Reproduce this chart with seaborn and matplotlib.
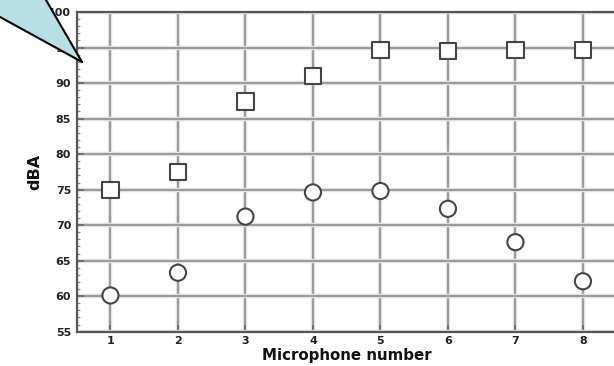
import matplotlib
matplotlib.use("Agg")
import matplotlib.pyplot as plt
import matplotlib.patheffects as pe
from matplotlib.patches import Polygon
from matplotlib.lines import Line2D
from matplotlib.ticker import MultipleLocator
import numpy as np
import pandas as pd
import seaborn as sns

# ---- data ----
microphones = [1, 2, 3, 4, 5, 6, 7, 8]
series_square = [74.9, 77.5, 87.4, 91.0, 94.6, 94.5, 94.7, 94.6]
series_circle = [60.1, 63.3, 71.2, 74.6, 74.8, 72.3, 67.6, 62.1]
y_ticks = [55, 60, 65, 70, 75, 80, 85, 90, 95, 100]
x_label = "Microphone number"
y_label = "dBA"

df = pd.DataFrame({
    "mic": microphones * 2,
    "dBA": series_square + series_circle,
    "series": ["square"] * len(microphones) + ["circle"] * len(microphones),
})

sns.set_style("white")
plt.rcParams["font.family"] = ["DejaVu Sans"]

W, H = 614, 366
fig = plt.figure(figsize=(W / 100, H / 100), dpi=100)
left, right = 76.7, 76.7 + 540.0
top, bottom = 12.0, 331.7
ax = fig.add_axes([left / W, 1 - bottom / H, (right - left) / W, (bottom - top) / H])

sns.scatterplot(
    data=df, x="mic", y="dBA", style="series",
    markers={"square": "s", "circle": "o"},
    s=135, color="white", edgecolor="#454545", linewidth=1.5,
    legend=False, ax=ax, zorder=5, clip_on=False,
)

ax.set_xlim(0.5, 8.5)
ax.set_ylim(55, 100)
ax.set_xticks(microphones)
ax.set_yticks(y_ticks)
ax.yaxis.set_minor_locator(MultipleLocator(1))

ax.grid(True, which="major", color="#9a9a9a", linewidth=1.4)
for gl in ax.get_xgridlines() + ax.get_ygridlines():
    gl.set_path_effects([pe.Stroke(linewidth=3.2, foreground="#e2e2e2"), pe.Normal()])
ax.set_axisbelow(True)

for side in ["left", "bottom", "top"]:
    ax.spines[side].set_visible(True)
    ax.spines[side].set_color("#555555")
    ax.spines[side].set_linewidth(1.6)
ax.spines["right"].set_visible(False)

ax.tick_params(axis="both", which="major", direction="in", length=5, width=1.2,
               color="#666666", labelsize=8, labelcolor="#222222")
ax.tick_params(axis="y", which="major", pad=4, left=True)
ax.tick_params(axis="x", which="major", pad=3, bottom=True)
ax.tick_params(axis="y", which="minor", direction="in", length=2.5, width=0.9,
               color="#888888", left=True)
for lab in ax.get_xticklabels() + ax.get_yticklabels():
    lab.set_fontweight("bold")

ax.set_xlabel(x_label, fontsize=10.8, fontweight="bold", color="#111111", labelpad=1.5)
ax.set_ylabel(y_label, fontsize=11.5, fontweight="bold", color="#111111")
ax.yaxis.set_label_coords((42 - left) / (right - left), 0.5)

# callout shape in the top-left corner (figure pixel coords, from top)
def fp(x, y):
    return (x / W, 1 - y / H)

poly = Polygon([fp(0, 0), fp(46, 0), fp(82, 62), fp(0, 17)], closed=True,
               transform=fig.transFigure, facecolor="#b8dfe3", edgecolor="none", zorder=10)
fig.patches.append(poly)
for (x0, y0), (x1, y1) in [((46, 0), (82, 62)), ((0, 17), (82, 62))]:
    a, b = fp(x0, y0), fp(x1, y1)
    fig.lines.append(Line2D([a[0], b[0]], [a[1], b[1]], transform=fig.transFigure,
                            color="black", linewidth=1.5, zorder=11))

fig.savefig("out.png", dpi=100)
